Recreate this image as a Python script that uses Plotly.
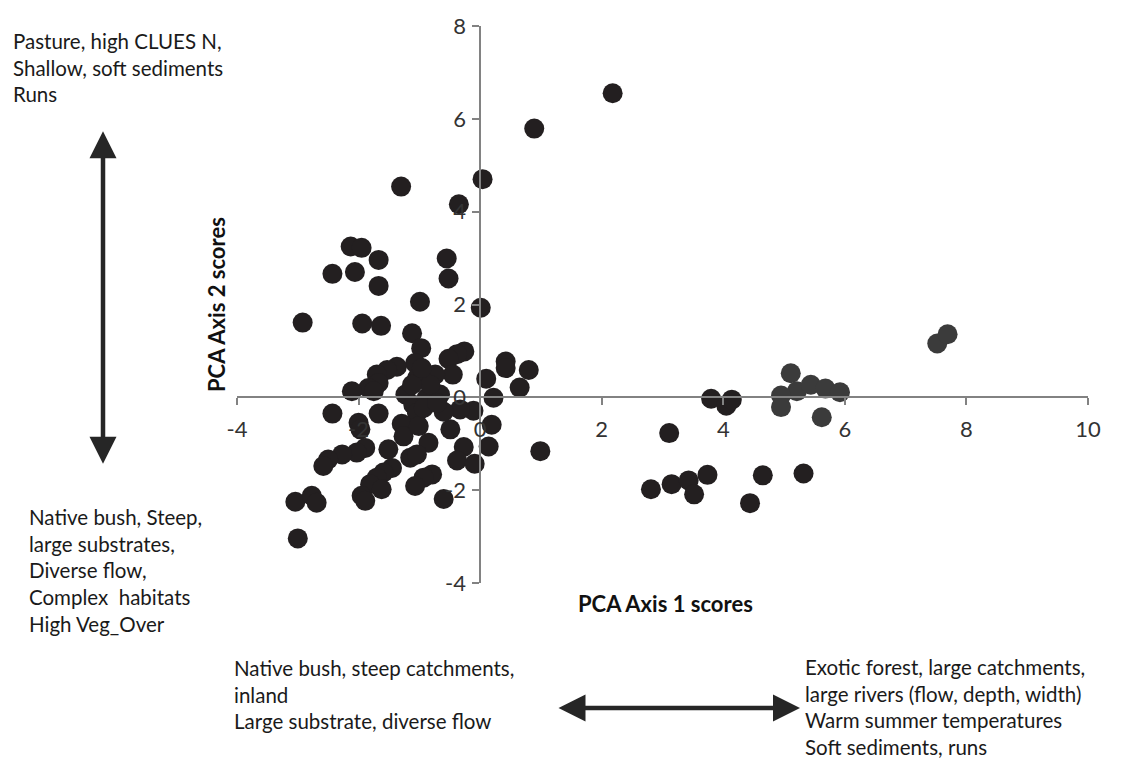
import plotly.graph_objects as go

# PCA site scores: main group of sites
axis1_scores = [
    2.18, 0.89, 0.04, -1.30, -0.35, -2.13, -1.95, -1.67, -0.55, -2.43, -2.06, -0.52, -1.67,
    -0.99, 0.01, -2.92, -1.94, -1.63, -1.12, -0.97, -0.26, -0.38, -0.52, -0.45, 0.42, 0.42,
    0.80, 0.65, 0.10, 0.22, 0.19, 0.14, 0.99, -0.11, -0.33, -0.27, -0.38, -0.09, -0.49,
    -0.60, -0.66, -0.74, -1.07, -1.04, -1.23, -1.10, -0.88, -1.04, -1.37, -1.53, -1.70,
    -1.67, -1.84, -2.11, -1.75, -2.43, -1.67, -2.00, -1.97, -1.29, -1.26, -1.01, -0.85,
    -1.51, -1.15, -1.04, -1.89, -2.03, -2.27, -2.50, -2.58, -1.45, -1.59, -1.70, -1.81,
    -1.62, -1.95, -1.89, -0.79, -0.93, -1.07, -0.60, -3.04, -2.77, -2.69, -3.00,
    -0.82, -0.93, -0.71, -1.12, -0.96,
    3.80, 4.05, 4.14, 3.11, 2.81, 3.15, 3.43, 3.52, 3.74, 4.65, 5.32, 4.44,
]
axis2_scores = [
    6.55, 5.79, 4.70, 4.54, 4.16, 3.25, 3.22, 2.96, 2.99, 2.66, 2.70, 2.56, 2.40,
    2.06, 1.93, 1.61, 1.59, 1.54, 1.38, 1.06, 0.99, 0.93, 0.83, 0.49, 0.77, 0.63,
    0.59, 0.21, 0.40, -0.01, -0.59, -1.06, -1.16, -0.29, -0.26, -1.07, -1.36, -1.43, -0.69,
    -0.31, 0.06, 0.49, 0.74, 0.41, 0.06, -0.16, -0.01, -0.34, 0.66, 0.59, 0.49,
    0.31, 0.20, 0.13, 0.13, -0.35, -0.35, -0.55, -0.69, -0.57, -0.84, -0.62, -0.98,
    -1.12, -1.30, -1.23, -1.09, -1.19, -1.23, -1.34, -1.48, -1.52, -1.62, -1.73, -1.87,
    -1.98, -2.12, -2.23, -1.66, -1.73, -1.91, -2.19, -2.25, -2.12, -2.27, -3.04,
    0.27, -0.23, -0.12, 0.27, 0.63,
    -0.03, -0.18, -0.05, -0.77, -1.98, -1.87, -1.79, -2.09, -1.67, -1.68, -1.64, -2.28,
]

# Large-river sites plotted in a lighter shade
large_axis1 = [7.52, 7.69, 5.11, 5.21, 5.44, 5.68, 5.92, 4.95, 4.95, 5.62]
large_axis2 = [1.16, 1.36, 0.52, 0.13, 0.27, 0.19, 0.11, 0.04, -0.21, -0.43]

x_range = [-4, 10]
y_range = [-4, 8]
x_ticks = [-4, -2, 0, 2, 4, 6, 8, 10]
x_tick_text = ["-4", "-2", "0", "2", "4", "6", "8", "10"]
y_ticks = [-4, -2, 0, 2, 4, 6, 8]
y_tick_text = ["-4", "-2", "0", "2", "4", "6", "8"]

FONT = "Lato, 'Open Sans', sans-serif"
W, H = 1130, 758
L, R, T, B = 237, 42, 22, 175
PW, PH = W - L - R, H - T - B


def px(xp):
    return (xp - L) / PW


def py(yp):
    return (H - B - yp) / PH


fig = go.Figure()
fig.add_trace(go.Scatter(
    x=axis1_scores, y=axis2_scores, mode="markers",
    marker=dict(size=20, color="#231f20", line=dict(width=0)),
    showlegend=False, hoverinfo="x+y",
))
fig.add_trace(go.Scatter(
    x=large_axis1, y=large_axis2, mode="markers",
    marker=dict(size=20, color="#3b3b3b", line=dict(width=0)),
    showlegend=False, hoverinfo="x+y",
))

axis_common = dict(
    showgrid=False, zeroline=False, showline=True, linecolor="#828282", linewidth=1.5,
    ticks="outside", ticklen=7, tickwidth=1.5, tickcolor="#828282",
    tickfont=dict(family=FONT, size=22, color="#333333"), tickmode="array",
    anchor="free",
)

fig.update_layout(
    width=W, height=H,
    margin=dict(l=L, r=R, t=T, b=B),
    paper_bgcolor="white", plot_bgcolor="white",
    xaxis=dict(range=x_range, tickvals=x_ticks, ticktext=x_tick_text, ticklabelstandoff=6,
               position=(0 - y_range[0]) / (y_range[1] - y_range[0]), **axis_common),
    yaxis=dict(range=y_range, tickvals=y_ticks, ticktext=y_tick_text, ticklabelstandoff=2,
               position=(0 - x_range[0]) / (x_range[1] - x_range[0]), **axis_common),
    font=dict(family=FONT, color="#1a1a1a"),
)

text_font = dict(family=FONT, size=20.5, color="#1a1a1a")
title_font = dict(family=FONT, size=22, color="#111111")

annotations = [
    dict(text="<b>PCA Axis 1 scores</b>", x=px(665), y=py(604), font=title_font,
         xanchor="center", yanchor="middle"),
    dict(text="<b>PCA Axis 2 scores</b>", x=px(217), y=py(303), font=title_font,
         textangle=-90, xanchor="center", yanchor="middle"),
    dict(text="Pasture, high CLUES N,<br>Shallow, soft sediments<br>Runs",
         x=px(11), y=py(23), font=text_font, xanchor="left", yanchor="top", align="left"),
    dict(text="Native bush, Steep,<br>large substrates,<br>Diverse flow,<br>Complex  habitats<br>High Veg_Over",
         x=px(27), y=py(502), font=text_font, xanchor="left", yanchor="top", align="left"),
    dict(text="Native bush, steep catchments,<br>inland<br>Large substrate, diverse flow",
         x=px(232), y=py(655), font=text_font, xanchor="left", yanchor="top", align="left"),
    dict(text="Exotic forest, large catchments,<br>large rivers (flow, depth, width)<br>Warm summer temperatures<br>Soft sediments, runs",
         x=px(803), y=py(653), font=text_font, xanchor="left", yanchor="top", align="left"),
]
for a in annotations:
    a.update(xref="paper", yref="paper", showarrow=False)

# Double-headed arrows indicating the direction of each gradient (head, tail in pixels)
arrow_ends = [((103, 128), (103, 462)), ((800, 709), (557, 709))]
for (hx, hy), (tx, ty) in arrow_ends:
    annotations.append(dict(
        xref="paper", yref="paper", x=px(hx), y=py(hy), ax=tx - hx, ay=ty - hy,
        text="", showarrow=True, arrowhead=2, arrowside="end+start", arrowsize=1.2,
        arrowwidth=4.5, arrowcolor="#262626", standoff=0, startstandoff=0,
    ))

fig.update_layout(annotations=annotations)
fig.write_html("out.html")
